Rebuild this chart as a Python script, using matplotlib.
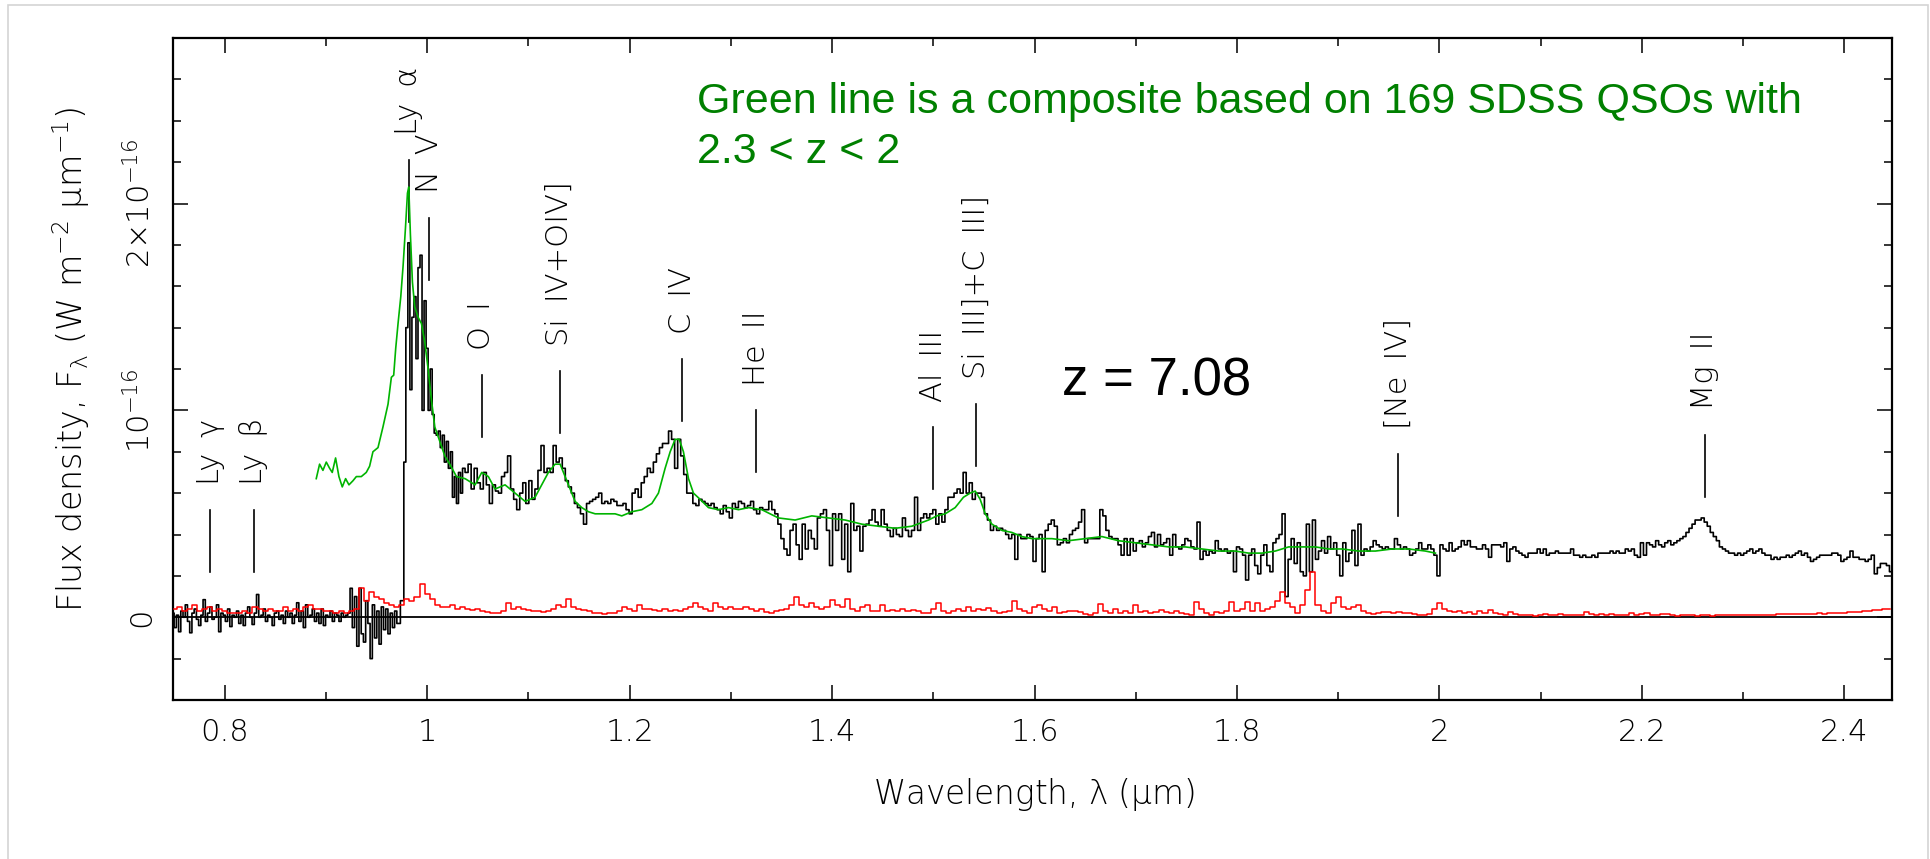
import numpy as np
import matplotlib
matplotlib.use('Agg')
from matplotlib import pyplot as plt

# flux in units of 1e-16 W m^-2 um^-1
# black spectrum, blueward of Ly alpha (start 0.749 um, bins of 0.0022 um)
black_blue = [0.02, -0.05, 0.01, -0.07, 0.03, 0.00, 0.06, -0.02, -0.075, 0.02,
              0.04, -0.01, -0.04, 0.01, 0.085, -0.02, 0.02, 0.05, -0.01, 0.00,
              0.06, -0.07, 0.02, 0.01, -0.02, 0.04, -0.045, 0.01, 0.00, 0.03,
              -0.03, 0.01, -0.04, 0.02, 0.05, 0.00, -0.035, 0.02, 0.11, 0.00,
              0.01, 0.04, -0.02, 0.01, 0.00, -0.04, 0.02, 0.03, -0.01, 0.01,
              -0.03, 0.03, 0.00, 0.02, -0.03, 0.01, 0.07, -0.02, 0.03, -0.05,
              0.06, 0.00, 0.01, 0.04, -0.02, 0.02, -0.03, 0.04, -0.04, 0.01,
              0.00, 0.03, -0.02, 0.02, 0.01, -0.02, 0.02, 0.00, 0.01, 0.02,
              0.14, -0.05, 0.10, -0.14, 0.14, -0.08, -0.12, 0.08, -0.03, -0.20,
              0.06, -0.10, 0.03, -0.13, 0.05, -0.06, 0.04, -0.08, 0.02, -0.05,
              0.03, -0.03]
# Ly alpha region (start 0.976 um, bins of 0.002 um)
black_lya = [0.08, 0.75, 1.4, 1.81, 1.1, 1.45, 1.55, 1.25, 1.69, 1.75,
             1.0, 1.53, 1.3, 1.0, 1.2, 0.98, 0.89, 0.88, 0.9, 0.82,
             0.88, 0.75, 0.85, 0.72, 0.8, 0.58, 0.68, 0.55, 0.7, 0.6]
# redward part, bins of 0.003 um, five pieces
black_1 = [0.72, 0.7, 0.74, 0.62, 0.72, 0.65, 0.62, 0.7, 0.64, 0.55,
           0.64, 0.61, 0.6, 0.68, 0.7, 0.78, 0.62, 0.57, 0.52, 0.6,
           0.65, 0.55, 0.66, 0.57, 0.62, 0.71, 0.83, 0.7, 0.72, 0.7,
           0.83, 0.75, 0.77, 0.72, 0.66, 0.63, 0.6, 0.55, 0.53, 0.5,
           0.45, 0.55, 0.56, 0.57, 0.58, 0.6, 0.55, 0.56, 0.55, 0.57,
           0.56, 0.54, 0.54, 0.55, 0.52, 0.5, 0.6, 0.62, 0.58, 0.65,
           0.68, 0.72, 0.7, 0.75, 0.79, 0.82, 0.84, 0.84, 0.9, 0.86,
           0.72, 0.86, 0.78, 0.69, 0.6, 0.6, 0.55, 0.54, 0.57, 0.56,
           0.55, 0.54, 0.55, 0.53, 0.52, 0.5, 0.54, 0.51, 0.48, 0.55,
           0.53, 0.56, 0.55, 0.53, 0.54, 0.56]
black_2 = [0.52, 0.5, 0.53, 0.52, 0.52, 0.56, 0.52, 0.5, 0.45, 0.38,
           0.33, 0.3, 0.42, 0.45, 0.35, 0.28, 0.45, 0.33, 0.42, 0.38,
           0.33, 0.48, 0.5, 0.52, 0.42, 0.25, 0.5, 0.42, 0.5, 0.28,
           0.45, 0.22, 0.55, 0.42, 0.44, 0.32, 0.44, 0.45, 0.47, 0.52,
           0.46, 0.44, 0.52, 0.45, 0.42, 0.39, 0.43, 0.4, 0.39, 0.48,
           0.42, 0.39, 0.42, 0.58, 0.42, 0.48, 0.5, 0.48, 0.5, 0.52,
           0.45, 0.5, 0.46, 0.52, 0.58, 0.58, 0.6, 0.62, 0.6, 0.7,
           0.6, 0.65, 0.57, 0.6, 0.6, 0.58, 0.5, 0.47, 0.42, 0.44,
           0.42, 0.43, 0.42, 0.4, 0.38, 0.4, 0.28, 0.4, 0.38, 0.38,
           0.4, 0.39, 0.27, 0.38, 0.4, 0.22]
black_3 = [0.42, 0.45, 0.47, 0.44, 0.35, 0.36, 0.38, 0.36, 0.4, 0.42,
           0.43, 0.46, 0.52, 0.36, 0.38, 0.38, 0.38, 0.38, 0.52, 0.49,
           0.42, 0.39, 0.38, 0.38, 0.35, 0.3, 0.38, 0.3, 0.38, 0.32,
           0.36, 0.37, 0.34, 0.36, 0.39, 0.41, 0.34, 0.4, 0.35, 0.36,
           0.38, 0.3, 0.4, 0.34, 0.33, 0.35, 0.38, 0.37, 0.34, 0.33,
           0.46, 0.28, 0.32, 0.3, 0.32, 0.31, 0.37, 0.33, 0.32, 0.33,
           0.31, 0.32, 0.22, 0.34, 0.33, 0.3, 0.18, 0.3, 0.33, 0.25,
           0.21, 0.3, 0.35, 0.25, 0.22, 0.36, 0.38, 0.4, 0.5, 0.1,
           0.28, 0.38, 0.26, 0.36, 0.22, 0.2, 0.45, 0.22, 0.47, 0.28,
           0.32, 0.37, 0.31, 0.39, 0.33, 0.36]
black_4 = [0.3, 0.2, 0.36, 0.27, 0.31, 0.42, 0.25, 0.45, 0.3, 0.33,
           0.32, 0.34, 0.37, 0.35, 0.34, 0.33, 0.34, 0.33, 0.33, 0.38,
           0.35, 0.33, 0.34, 0.33, 0.3, 0.31, 0.33, 0.36, 0.33, 0.33,
           0.35, 0.33, 0.3, 0.2, 0.35, 0.33, 0.32, 0.36, 0.32, 0.33,
           0.34, 0.37, 0.35, 0.37, 0.34, 0.34, 0.33, 0.33, 0.35, 0.33,
           0.29, 0.35, 0.35, 0.35, 0.34, 0.36, 0.27, 0.33, 0.34, 0.32,
           0.31, 0.3, 0.29, 0.31, 0.31, 0.31, 0.33, 0.31, 0.33, 0.3,
           0.31, 0.31, 0.32, 0.31, 0.31, 0.31, 0.31, 0.33, 0.3, 0.3,
           0.29, 0.3, 0.29, 0.29, 0.3, 0.29, 0.31, 0.31, 0.31, 0.31,
           0.32, 0.31, 0.32, 0.31, 0.31]
black_5 = [0.33, 0.32, 0.33, 0.3, 0.29, 0.36, 0.3, 0.36, 0.35, 0.34,
           0.37, 0.35, 0.34, 0.36, 0.37, 0.35, 0.36, 0.37, 0.38, 0.39,
           0.41, 0.43, 0.45, 0.47, 0.47, 0.48, 0.46, 0.44, 0.41, 0.39,
           0.37, 0.34, 0.33, 0.32, 0.31, 0.31, 0.3, 0.31, 0.3, 0.31,
           0.32, 0.33, 0.31, 0.32, 0.33, 0.31, 0.3, 0.3, 0.28, 0.29,
           0.28, 0.29, 0.29, 0.3, 0.29, 0.3, 0.31, 0.32, 0.3, 0.31,
           0.29, 0.27, 0.28, 0.29, 0.3, 0.3, 0.3, 0.3, 0.31, 0.31,
           0.3, 0.27, 0.28, 0.29, 0.32, 0.29, 0.29, 0.28, 0.28, 0.27,
           0.28, 0.3, 0.21, 0.24, 0.26, 0.26, 0.25, 0.22]
black_starts = [1.036, 1.324, 1.612, 1.900, 2.185]

# red error spectrum, bins of 0.005 um, in pieces
red_parts = [
    (0.75, [0.04, 0.05, 0.03, 0.04, 0.06, 0.03, 0.04, 0.05, 0.03, 0.04,
            0.03, 0.02, 0.02, 0.02, 0.03, 0.02, 0.05, 0.04, 0.03, 0.04,
            0.03, 0.03, 0.05, 0.03, 0.04, 0.03, 0.05, 0.06, 0.04, 0.04,
            0.03, 0.03, 0.02, 0.03, 0.02, 0.03, 0.04,
            0.14, 0.08, 0.12, 0.10, 0.09, 0.07, 0.06, 0.05, 0.06]),
    (0.98, [0.09, 0.08, 0.1, 0.16, 0.11, 0.09, 0.06, 0.05, 0.05, 0.06,
            0.04, 0.05, 0.04, 0.035]),
    (1.05, [0.04, 0.03, 0.025, 0.02, 0.02, 0.03, 0.07, 0.04, 0.05, 0.04,
            0.035, 0.03, 0.03, 0.025, 0.03, 0.04, 0.06, 0.05, 0.09, 0.05,
            0.04, 0.035, 0.03, 0.02, 0.02, 0.015, 0.02, 0.02, 0.03, 0.05,
            0.04, 0.03, 0.06, 0.04, 0.04, 0.035, 0.03, 0.04, 0.03, 0.035,
            0.03, 0.04, 0.05, 0.07, 0.05, 0.04, 0.03, 0.07, 0.05, 0.04,
            0.05, 0.04, 0.04, 0.05, 0.04]),
    (1.325, [0.03, 0.04, 0.025, 0.02, 0.03, 0.035, 0.04, 0.06, 0.1, 0.06,
             0.05, 0.07, 0.05, 0.04, 0.05, 0.085, 0.06, 0.05, 0.09, 0.04,
             0.03, 0.05, 0.06, 0.03, 0.03, 0.06, 0.03, 0.035, 0.03, 0.04,
             0.03, 0.035, 0.03, 0.02, 0.02, 0.04, 0.07, 0.03, 0.02, 0.03,
             0.04, 0.03, 0.05, 0.03, 0.04, 0.035, 0.045, 0.03, 0.02, 0.025,
             0.03, 0.08, 0.04, 0.03, 0.02, 0.05, 0.06, 0.04]),
    (1.615, [0.03, 0.05, 0.02, 0.025, 0.03, 0.03, 0.025, 0.015, 0.01, 0.02,
             0.065, 0.03, 0.02, 0.04, 0.02, 0.03, 0.02, 0.06, 0.025, 0.03,
             0.02, 0.025, 0.035, 0.025, 0.02, 0.03, 0.02, 0.015, 0.01, 0.075,
             0.04, 0.02, 0.01, 0.025, 0.02, 0.03, 0.075, 0.03, 0.04, 0.075,
             0.03, 0.07, 0.03, 0.04, 0.05, 0.08, 0.12, 0.07, 0.05, 0.02,
             0.06, 0.13, 0.22, 0.06, 0.03, 0.02, 0.07]),
    (1.90, [0.1, 0.05, 0.04, 0.05, 0.06, 0.03, 0.02, 0.015, 0.02, 0.025,
            0.025, 0.02, 0.025, 0.02, 0.02, 0.015, 0.012, 0.012, 0.015, 0.04,
            0.07, 0.04, 0.03, 0.025, 0.03, 0.02, 0.025, 0.015, 0.03, 0.02,
            0.035, 0.02, 0.015, 0.01, 0.025, 0.015, 0.01, 0.01, 0.01, 0.008,
            0.012, 0.015, 0.01, 0.012, 0.015, 0.01, 0.01, 0.01, 0.012, 0.025,
            0.015, 0.01, 0.015, 0.01, 0.015, 0.012, 0.01]),
    (2.185, [0.012, 0.02, 0.01, 0.015, 0.02, 0.01, 0.012, 0.015, 0.018, 0.01,
             0.008, 0.01, 0.012, 0.01, 0.008, 0.01, 0.01, 0.008, 0.01, 0.01,
             0.012, 0.01, 0.01, 0.01, 0.012, 0.012, 0.01, 0.012, 0.012, 0.013,
             0.015, 0.014, 0.015, 0.016, 0.016, 0.015, 0.018, 0.018, 0.02, 0.018,
             0.02, 0.02, 0.02, 0.022, 0.025, 0.024, 0.025, 0.03, 0.03, 0.035,
             0.035, 0.04, 0.04]),
]

# green composite (SDSS QSOs)
green_lam = [0.8905, 0.8938, 0.8971, 0.9004, 0.9037, 0.9063, 0.9096, 0.9129, 0.9162, 0.9195,
             0.9228, 0.9268, 0.9301, 0.935, 0.9399, 0.9432, 0.9465, 0.9515, 0.9564, 0.9614,
             0.9647, 0.967, 0.969, 0.9713, 0.974, 0.9763, 0.9786, 0.9806, 0.9819, 0.9835,
             0.9855, 0.9878, 0.9911, 0.9944, 0.9977, 1.001, 1.0043, 1.0076, 1.0125, 1.0175,
             1.0224, 1.029, 1.0375, 1.0474, 1.054, 1.0605, 1.0671, 1.077, 1.0869, 1.0968,
             1.1066, 1.1132, 1.1198, 1.1264, 1.1314, 1.1363, 1.1412, 1.1462, 1.1528, 1.1594,
             1.166, 1.1758, 1.1857, 1.1923, 1.2022, 1.2121, 1.222, 1.2285, 1.2351, 1.2401,
             1.245, 1.249, 1.2532, 1.2582, 1.2631, 1.2697, 1.2779, 1.2878, 1.2977, 1.3076,
             1.3175, 1.3306, 1.347, 1.3635, 1.38, 1.3964, 1.4129, 1.4294, 1.4459, 1.4623,
             1.4788, 1.4953, 1.5035, 1.5117, 1.5216, 1.5298, 1.5364, 1.5414, 1.5463, 1.5513,
             1.5579, 1.5677, 1.5776, 1.5875, 1.5974, 1.6172, 1.6336, 1.6501, 1.6666, 1.683,
             1.6995, 1.716, 1.7325, 1.7489, 1.7654, 1.7819, 1.7983, 1.8115, 1.8247, 1.8379,
             1.851, 1.8642, 1.8774, 1.8906, 1.9038, 1.9202, 1.9367, 1.9532, 1.9696, 1.9861,
             1.996]
green_flux = [0.67, 0.74, 0.71, 0.75, 0.72, 0.70, 0.77, 0.68, 0.63, 0.67,
              0.64, 0.66, 0.68, 0.68, 0.70, 0.73, 0.80, 0.82, 0.92, 1.03,
              1.16, 1.17, 1.30, 1.42, 1.55, 1.70, 1.88, 2.05, 2.08, 1.85,
              1.62, 1.50, 1.45, 1.42, 1.33, 1.20, 1.05, 0.92, 0.85, 0.78,
              0.74, 0.68, 0.67, 0.64, 0.70, 0.68, 0.62, 0.64, 0.60, 0.56,
              0.58, 0.64, 0.70, 0.74, 0.74, 0.68, 0.62, 0.56, 0.53, 0.51,
              0.50, 0.50, 0.50, 0.49, 0.51, 0.52, 0.55, 0.60, 0.72, 0.80,
              0.86, 0.86, 0.80, 0.67, 0.60, 0.57, 0.53, 0.52, 0.53, 0.52,
              0.53, 0.52, 0.48, 0.47, 0.49, 0.48, 0.47, 0.45, 0.44, 0.43,
              0.44, 0.47, 0.49, 0.50, 0.53, 0.58, 0.60, 0.61, 0.57, 0.50,
              0.45, 0.42, 0.41, 0.39, 0.38, 0.38, 0.37, 0.38, 0.39, 0.37,
              0.36, 0.35, 0.34, 0.34, 0.33, 0.32, 0.32, 0.31, 0.31, 0.32,
              0.34, 0.34, 0.34, 0.33, 0.33, 0.32, 0.32, 0.33, 0.33, 0.32,
              0.31]

# emission line markers
line_lam = [0.786, 0.829, 0.982, 1.002, 1.054, 1.131, 1.252, 1.325, 1.500, 1.542, 1.959, 2.262]
line_names = ['Ly \u2009\u03b3', 'Ly \u2009\u03b2', 'Ly \u2009\u03b1', 'N \u2009V', 'O \u2009I',
              'Si \u2009IV+OIV]', 'C \u2009IV', 'He \u2009II', 'Al \u2009III', 'Si \u2009III]+C \u2009III]',
              '[Ne \u2009IV]', 'Mg \u2009II']
line_base = [0.22, 0.22, 1.91, 1.63, 0.87, 0.89, 0.95, 0.70, 0.62, 0.73, 0.49, 0.58]


def bins(start, step, values):
    return start + step * np.arange(len(values))


plt.rcParams['font.family'] = ['DejaVu Sans']
plt.rcParams['font.weight'] = 200
plt.rcParams['axes.labelweight'] = 200
plt.rcParams['mathtext.fontset'] = 'custom'
plt.rcParams['mathtext.rm'] = 'DejaVu Sans:weight=200'
plt.rcParams['mathtext.it'] = 'DejaVu Sans:weight=200'

fig = plt.figure(figsize=(19.3, 8.59), dpi=100)
ax = fig.add_axes([173 / 1930, 1 - 700 / 859, 1719 / 1930, 662 / 859])

lam_black = np.concatenate([bins(0.749, 0.0022, black_blue), bins(0.976, 0.002, black_lya)] +
                           [bins(s, 0.003, v) for s, v in zip(black_starts, [black_1, black_2, black_3, black_4, black_5])])
flux_black = np.concatenate([black_blue, black_lya, black_1, black_2, black_3, black_4, black_5])
lam_red = np.concatenate([bins(s, 0.005, v) for s, v in red_parts])
flux_red = np.concatenate([v for s, v in red_parts])

ax.axhline(0, color='k', lw=1.3, zorder=1)
ax.step(lam_black, flux_black, where='mid', color='k', lw=1.2, zorder=2)
ax.step(lam_red, flux_red, where='mid', color='#ff0000', lw=1.1, zorder=3)
ax.plot(green_lam, green_flux, color='#00b400', lw=1.2, zorder=4)

for lam, name, base in zip(line_lam, line_names, line_base):
    ax.plot([lam, lam], [base, base + 0.30], color='k', lw=1.2)
    ax.text(lam, base + 0.42, name, rotation=90, ha='center', va='bottom', fontsize=22)

ax.set_xlim(0.749, 2.447)
ax.set_ylim(-0.40, 2.80)
ax.set_xticks([0.8, 1.0, 1.2, 1.4, 1.6, 1.8, 2.0, 2.2, 2.4])
ax.set_xticklabels(['0.8', '1', '1.2', '1.4', '1.6', '1.8', '2', '2.2', '2.4'])
ax.set_xticks(np.arange(0.8, 2.45, 0.1), minor=True)
ax.set_yticks([0, 1, 2])
ax.set_yticklabels(['0', '10$^{-16}$', '2\u00d710$^{-16}$'], rotation=90, va='center')
ax.set_yticks(np.arange(-0.4, 2.81, 0.2), minor=True)
ax.tick_params(which='both', direction='in', top=True, right=True, width=1.1, labelsize=22)
ax.tick_params(which='major', length=11)
ax.tick_params(which='minor', length=6)
ax.tick_params(axis='x', pad=13)
ax.tick_params(axis='y', pad=12)
for s in ax.spines.values():
    s.set_linewidth(1.6)

ax.set_xlabel('Wavelength, \u03bb ($\\mu$m)', fontsize=23.5)
ax.xaxis.set_label_coords(0.501, -0.115)
ax.set_ylabel('Flux density, F$_\\lambda$ (W m$^{-2}$ $\\mu$m$^{-1}$)', fontsize=24)
ax.yaxis.set_label_coords(-0.047, 0.515)

fig.text(697 / 1930, 1 - 113 / 859, 'Green line is a composite based on 169 SDSS QSOs with',
         color='#008000', fontsize=31, family='Liberation Sans', weight='normal', ha='left', va='baseline')
fig.text(697 / 1930, 1 - 163 / 859, '2.3 < z < 2',
         color='#008000', fontsize=31, family='Liberation Sans', weight='normal', ha='left', va='baseline')
fig.text(1157 / 1930, 1 - 396 / 859, 'z = 7.08', color='k', fontsize=38, family='Liberation Sans',
         weight='normal', ha='center', va='baseline')

fig.add_artist(plt.Rectangle((8 / 1930, -0.01), 1920 / 1930, 1 - 5 / 859 + 0.01, transform=fig.transFigure,
                             fill=False, ec='#d4d4d4', lw=1.2))

fig.savefig('out.png', dpi=100)
